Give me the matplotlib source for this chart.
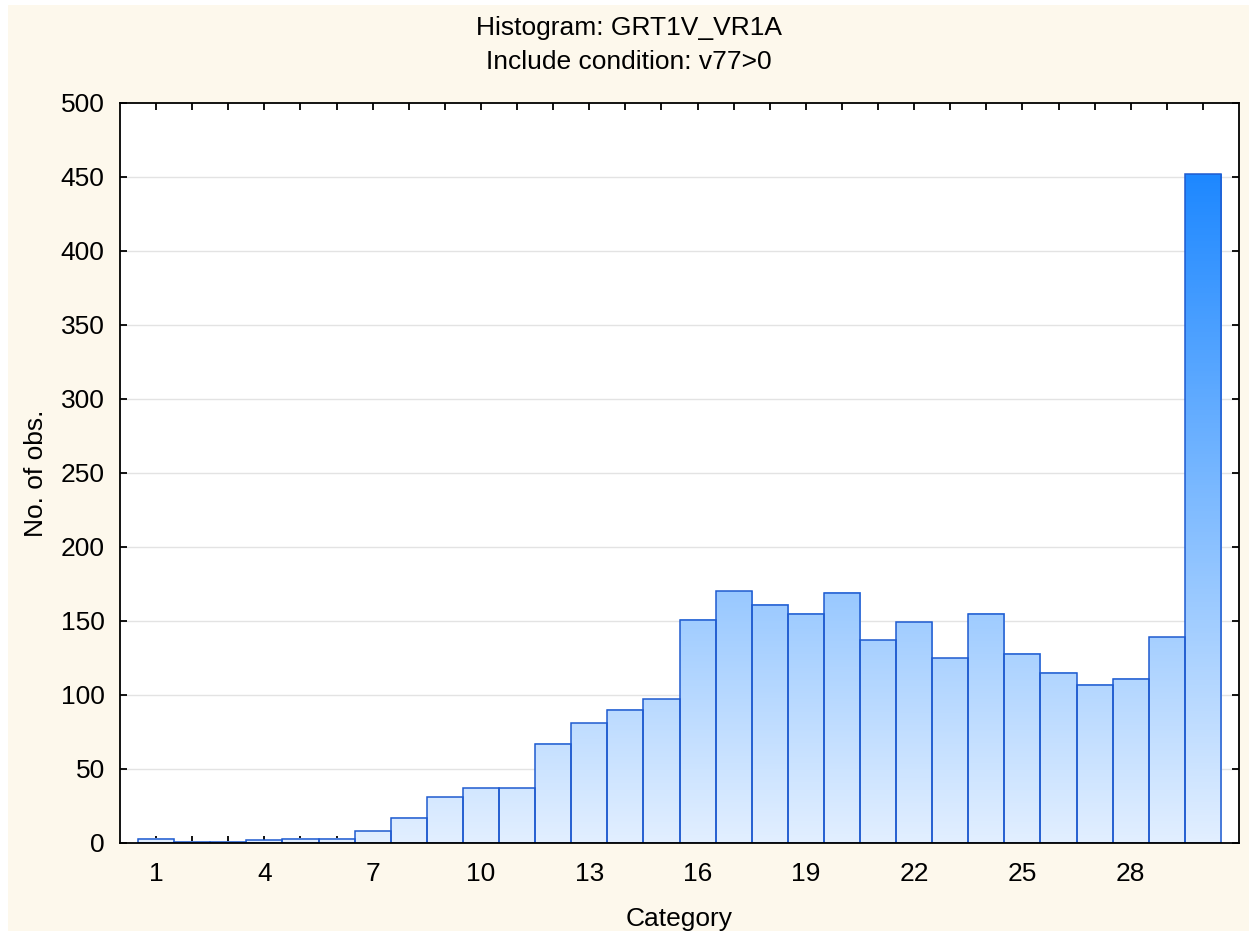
import numpy as np
import matplotlib
matplotlib.use("Agg")
import matplotlib.pyplot as plt
from matplotlib.colors import LinearSegmentedColormap
from matplotlib.patches import Rectangle

plt.rcParams['font.family'] = ['Liberation Sans', 'DejaVu Sans']
plt.rcParams['font.size'] = 19

# Data
categories = np.arange(1, 31)
counts = [3, 1, 1, 2, 3, 3, 8, 17, 31, 37, 37, 67, 81, 90, 97,
          151, 170, 161, 155, 169, 137, 149, 125, 155, 128, 115, 107, 111, 139, 452]
xtick_vals = [1, 4, 7, 10, 13, 16, 19, 22, 25, 28]
ytick_vals = [0, 50, 100, 150, 200, 250, 300, 350, 400, 450, 500]

fig = plt.figure(figsize=(12.57, 9.36), dpi=100, facecolor='white')
# cream panel behind everything
fig.patches.append(Rectangle((8/1257, 5/936), 1 - 16/1257, 1 - 10/936,
                             transform=fig.transFigure, facecolor='#fdf8ec',
                             edgecolor='none', zorder=-10))
ax = fig.add_axes([120/1257, 1 - 843/936, 1119/1257, 740/936])
ax.set_facecolor('white')

# gradient that depends on height (light at 0, saturated blue at the top)
cmap = LinearSegmentedColormap.from_list('hist', ['#e2efff', '#1e88ff'])
vmax = max(counts)
for c, v in zip(categories, counts):
    grad = np.linspace(0, v, 200).reshape(-1, 1)
    ax.imshow(grad, extent=(c - 0.5, c + 0.5, 0, v), origin='lower', cmap=cmap,
              vmin=0, vmax=vmax, aspect='auto', zorder=1, interpolation='bilinear')
ax.bar(categories, counts, width=1.0, fill=False, edgecolor='#1f5bd0',
       linewidth=1.1, zorder=2)

ax.set_xlim(0, 31)
ax.set_ylim(0, 500)
ax.set_xticks(categories, minor=True)
ax.set_xticks(xtick_vals)
ax.set_yticks(ytick_vals)

ax.set_axisbelow(True)
for y in ytick_vals[1:-1]:
    ax.axhline(y, color='#e3e3e3', linewidth=1.0, zorder=0.5)

ax.tick_params(axis='both', which='both', direction='in', top=True, right=True,
               length=5, width=1.3, color='black')
ax.tick_params(axis='x', which='major', pad=14)
ax.tick_params(axis='y', which='major', pad=11)
for sp in ax.spines.values():
    sp.set_linewidth(1.3)
    sp.set_color('black')

ax.set_xlabel('Category')
ax.xaxis.set_label_coords(0.5, -0.087)
ax.set_ylabel('No. of obs.')
ax.yaxis.set_label_coords(-0.064, 0.5)

fig.text(0.5, 1 - 28/936, 'Histogram: GRT1V_VR1A', ha='center', va='center')
fig.text(0.5, 1 - 62/936, 'Include condition: v77>0', ha='center', va='center')

fig.savefig('out.png', dpi=100, facecolor=fig.get_facecolor())
